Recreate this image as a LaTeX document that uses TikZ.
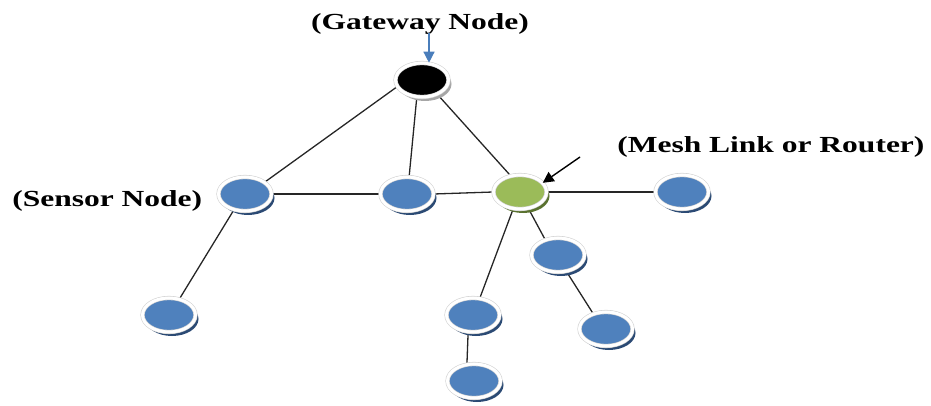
\documentclass[tikz,border=0pt]{standalone}
\usepackage{fontspec}
\setmainfont{Liberation Serif}
\usetikzlibrary{shapes.geometric,shadows,arrows.meta,backgrounds}
\definecolor{nodeblue}{HTML}{4F81BD}
\definecolor{blueshadow}{HTML}{2B4A74}
\definecolor{nodegreen}{HTML}{9BBB59}
\definecolor{greenshadow}{HTML}{5A7230}
\definecolor{arrowblue}{HTML}{4A7EBB}
\begin{document}
\begin{tikzpicture}[x=1pt,y=-1pt,
  meshnode/.style={ellipse, minimum width=53pt, minimum height=34pt, inner sep=0pt,
    draw=gray!35, line width=0.6pt, double=white, double distance=3pt},
  bluenode/.style={meshnode, fill=nodeblue,
    drop shadow={shadow xshift=3pt, shadow yshift=-4pt, fill=blueshadow, opacity=1}},
  greennode/.style={meshnode, fill=nodegreen,
    drop shadow={shadow xshift=3pt, shadow yshift=-4pt, fill=greenshadow, opacity=1}},
  gatenode/.style={meshnode, fill=black,
    drop shadow={shadow xshift=3pt, shadow yshift=-4pt, fill=gray!70, opacity=1}},
  link/.style={draw=black!85, line width=1.3pt},
  pointer/.style={line width=1.4pt, -{Triangle[length=11pt,width=11pt]}},
  lbl/.style={font=\bfseries\fontsize{23}{27}\selectfont, xscale=1.37, inner sep=0pt}
]
\useasboundingbox (0,0) rectangle (931,406);

\node[gatenode]  (gw) at (422,80) {};
\node[bluenode]  (s1) at (245,194) {};
\node[bluenode]  (m)  at (407,194) {};
\node[greennode] (g)  at (520,192) {};
\node[bluenode]  (r)  at (682,192) {};
\node[bluenode]  (ll) at (169,315) {};
\node[bluenode]  (a)  at (473,315) {};
\node[bluenode]  (b)  at (474,381) {};
\node[bluenode]  (c)  at (558,255) {};
\node[bluenode]  (d)  at (606,329) {};

\begin{scope}[on background layer]
\draw[link] (gw.195) -- (s1.31);
\draw[link] (gw.253) -- (m.83);
\draw[link] (gw.317) -- (g.120);
\draw[link] (s1.east) -- (m.west);
\draw[link] (m.east) -- (g.west);
\draw[link] (g.east) -- (r.west);
\draw[link] (s1.235) -- (ll.57);
\draw[link] (g.248) -- (a.68);
\draw[link] (g.297) -- (c.130);
\draw[link] (c.297) -- (d.130);
\draw[link] (a.254) -- (b.113);
\end{scope}

\node[lbl, anchor=base] (gwl) at (420,30) {(Gateway Node)};
\node[lbl, anchor=base west] (s1l) at (12,206) {(Sensor Node)};
\node[lbl, anchor=base west] (gl) at (617,153) {(Mesh Link or Router)};

\coordinate (bt) at (429,33);
\draw[pointer, draw=arrowblue, fill=arrowblue] (bt) -- (bt |- gw.north);
\coordinate (kt) at (580,157);
\draw[pointer, draw=black, fill=black] (kt) -- (g.22);
\end{tikzpicture}
\end{document}
